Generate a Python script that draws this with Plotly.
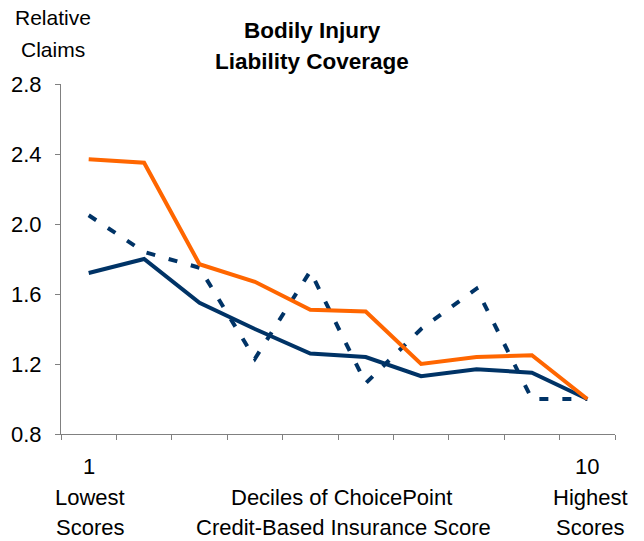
import plotly.graph_objects as go

# Relative claims by decile of credit-based insurance score
deciles = list(range(1, 11))
orange_series = [2.37, 2.35, 1.77, 1.67, 1.51, 1.50, 1.20, 1.24, 1.25, 1.00]
navy_series = [1.72, 1.80, 1.55, 1.40, 1.26, 1.24, 1.13, 1.17, 1.15, 1.00]
dashed_series = [2.05, 1.84, 1.75, 1.23, 1.73, 1.09, 1.40, 1.63, 1.00, 1.00]

y_ticks = [0.8, 1.2, 1.6, 2.0, 2.4, 2.8]
x_end_labels = ["1", "10"]

FONT = "Liberation Sans, Arial, sans-serif"
ORANGE = "#FF6600"
NAVY = "#003366"
AXIS = "#808080"

# plot area in pixels
L, R, T, B = 61, 29, 84, 107
W, H = 644, 541
PW, PH = W - L - R, H - T - B


def px(x):
    return (x - L) / PW


def py(y):
    return (H - B - y) / PH


fig = go.Figure()
fig.add_trace(go.Scatter(x=deciles, y=dashed_series, mode="lines",
                         line=dict(color=NAVY, width=4, dash="9px,14px"),
                         hoverinfo="skip"))
fig.add_trace(go.Scatter(x=deciles, y=navy_series, mode="lines",
                         line=dict(color=NAVY, width=4), hoverinfo="skip"))
fig.add_trace(go.Scatter(x=deciles, y=orange_series, mode="lines",
                         line=dict(color=ORANGE, width=4), hoverinfo="skip"))

annotations = []


def text(s, x, y, size=22, bold=False):
    annotations.append(dict(
        text=f"<b>{s}</b>" if bold else s, x=px(x), y=py(y), xref="paper",
        yref="paper", xanchor="center", yanchor="middle", showarrow=False,
        font=dict(family=FONT, size=size, color="#000000")))


text("Bodily Injury", 312, 31, size=22.5, bold=True)
text("Liability Coverage", 312, 61, size=22.5, bold=True)
text("Relative", 53, 18, size=21)
text("Claims", 53, 50, size=21)

# end labels under the first and last decile
for lab, xv in zip(x_end_labels, [deciles[0], deciles[-1]]):
    annotations.append(dict(text=lab, x=xv, y=py(466), xref="x", yref="paper",
                            xanchor="center", yanchor="middle", showarrow=False,
                            font=dict(family=FONT, size=22, color="#000000")))

text("Lowest", 90, 497)
text("Scores", 90, 527)
text("Highest", 590, 497)
text("Scores", 590, 527)
text("Deciles of ChoicePoint", 341, 497)
text("Credit-Based Insurance Score", 343, 527)

fig.update_layout(
    width=W, height=H,
    margin=dict(l=L, r=R, t=T, b=B, pad=0),
    paper_bgcolor="white", plot_bgcolor="white",
    showlegend=False,
    annotations=annotations,
    font=dict(family=FONT, size=22, color="#000000"),
    xaxis=dict(range=[0.5, 10.5], tickmode="array",
               tickvals=[i + 0.5 for i in range(0, 11)],
               showticklabels=False, ticks="outside", ticklen=5,
               tickcolor=AXIS, tickwidth=1, showline=True, linecolor=AXIS,
               linewidth=1, showgrid=False, zeroline=False, fixedrange=True),
    yaxis=dict(range=[0.8, 2.8], tickmode="array", tickvals=y_ticks,
               ticktext=[f"{v:.1f}" for v in y_ticks],
               ticks="outside", ticklen=5, tickcolor=AXIS, tickwidth=1,
               ticklabelstandoff=9,
               showline=True, linecolor=AXIS, linewidth=1, showgrid=False,
               zeroline=False, fixedrange=True,
               tickfont=dict(family=FONT, size=22, color="#000000")),
)

fig.write_html("out.html")
